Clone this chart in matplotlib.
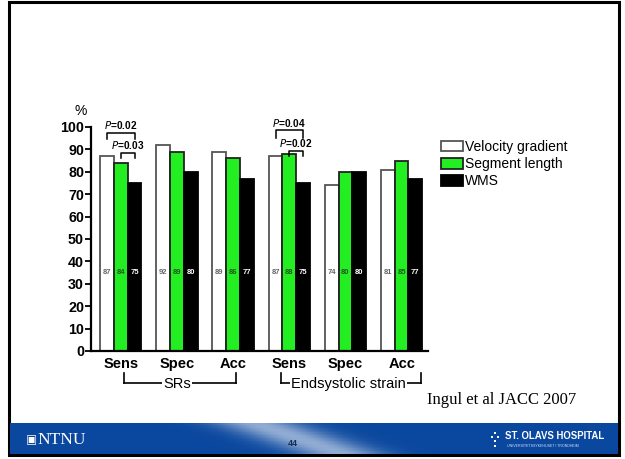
import numpy as np
import matplotlib
matplotlib.use("Agg")
import matplotlib.pyplot as plt
from matplotlib.patches import Rectangle

plt.rcParams['font.family'] = ['Liberation Sans', 'DejaVu Sans']

# ---- data ----
categories = ["Sens", "Spec", "Acc", "Sens", "Spec", "Acc"]
series_names = ["Velocity gradient", "Segment length", "WMS"]
velocity_gradient = [87, 92, 89, 87, 74, 81]
segment_length = [84, 89, 86, 88, 80, 85]
wms = [75, 80, 77, 75, 80, 77]
group_names = ["SRs", "Endsystolic strain"]
p_values = ["0.02", "0.03", "0.04", "0.02"]
citation = "Ingul et al JACC 2007"
slide_number = "44"

W, H = 625, 459
fig = plt.figure(figsize=(W / 100, H / 100), dpi=100)


def fx(px):
    return px / W


def fy(py):
    return 1 - py / H


# slide frame and footer banner
fig.patches.append(Rectangle((fx(9), fy(455)), fx(610), 453 / H, transform=fig.transFigure,
                             facecolor="white", edgecolor="black", linewidth=2.2, zorder=-10))
grad = np.linspace(0, 1, 400)
img = np.zeros((10, 400, 3))
base = np.array([0.04, 0.28, 0.62])
for i in range(10):
    shift = (i - 5) * 0.015
    s = np.exp(-((grad - 0.48 - shift) / 0.07) ** 2) * 0.55
    img[i] = base + (1 - base) * s[:, None]
bax = fig.add_axes([fx(10), fy(454), fx(608), 31 / H], zorder=1)
bax.imshow(img, aspect="auto", extent=[0, 1, 0, 1])
bax.set_axis_off()

fig.text(fx(31), fy(440), "\u25a3", color="white", fontsize=8.5, ha="center", va="center",
         family=["DejaVu Sans"], zorder=5)
fig.text(fx(37), fy(440), "NTNU", color="white", fontsize=12.5, ha="left", va="center",
         family=["Liberation Serif"], zorder=5)
fig.text(fx(293), fy(443), slide_number, color="#1a2a55", fontsize=6.5, fontweight="bold",
         ha="center", va="center", zorder=5)
fig.text(fx(505), fy(436), "ST. OLAVS HOSPITAL", color="white", fontsize=6.9, fontweight="bold",
         ha="left", va="center", zorder=5)
fig.text(fx(507), fy(446), "UNIVERSITETSSYKEHUSET I TRONDHEIM", color="#cfe0ff", fontsize=2.6,
         ha="left", va="center", zorder=5)
for (dx, dy) in [(495, 433), (498, 437), (492, 437), (495, 441), (495, 446)]:
    fig.patches.append(Rectangle((fx(dx - 1), fy(dy + 1)), fx(2), 2 / H, transform=fig.transFigure,
                                 facecolor="white", edgecolor="none", zorder=5))

# ---- chart ----
ax = fig.add_axes([fx(91), fy(351), fx(337), 224 / H], zorder=2)
ax.patch.set_alpha(0)
x = np.arange(len(categories))
bw = 0.245
colors = ["white", "#22ee22", "black"]
edges = ["#555555", "#222222", "black"]
label_colors = ["#666666", "#225522", "white"]
for k, vals in enumerate([velocity_gradient, segment_length, wms]):
    xs = x + (k - 1) * bw
    ax.bar(xs, vals, width=bw, color=colors[k], edgecolor=edges[k], linewidth=1.3,
           label=series_names[k], zorder=2)
    for xi, v in zip(xs, vals):
        ax.text(xi, 35, str(v), ha="center", va="center", fontsize=5.5,
                color=label_colors[k], fontweight="bold", zorder=3)

ax.set_xlim(-0.53, 5.47)
ax.set_ylim(0, 100)
ax.set_yticks(np.arange(0, 101, 10))
ax.set_xticks(x)
ax.set_xticklabels(categories, fontsize=10.5, fontweight="bold")
ax.tick_params(axis="x", length=0, pad=4)
ax.tick_params(axis="y", length=4, width=1.3, labelsize=10.3, pad=1)
for lab in ax.get_yticklabels():
    lab.set_fontweight("bold")
for s in ["top", "right"]:
    ax.spines[s].set_visible(False)
for s in ["left", "bottom"]:
    ax.spines[s].set_linewidth(1.6)
ax.text(-0.72, 104, "%", fontsize=10, ha="center", va="bottom")


def bracket(x0, x1, y, drop, text):
    ax.plot([x0, x0, x1, x1], [y - drop, y, y, y - drop], color="black", lw=1.1,
            clip_on=False, zorder=4)
    ax.text((x0 + x1) / 2, y + 0.6, "$\\mathit{P}$=" + text, ha="center", va="bottom",
            fontsize=7.3, fontweight="bold", clip_on=False)


bracket(0 - bw, 0 + bw, 97.5, 3, p_values[0])
bracket(0, 0 + bw, 88.5, 2.5, p_values[1])
bracket(3 - bw, 3 + bw, 98.5, 3.5, p_values[2])
bracket(3, 3 + bw, 89.5, 2.5, p_values[3])


# group brackets under the category labels
def group_bracket(x0, x1, xt, text):
    y_top, y_bot = -10, -14.5
    ax.plot([x0, x0], [y_top, y_bot], color="black", lw=1.2, clip_on=False)
    ax.plot([x1, x1], [y_top, y_bot], color="black", lw=1.2, clip_on=False)
    ax.plot([x0, x1], [y_bot, y_bot], color="black", lw=1.2, clip_on=False, zorder=1)
    ax.text(xt, y_bot - 0.3, text, ha="center", va="center", fontsize=10.5, clip_on=False,
            zorder=3, bbox=dict(facecolor="white", edgecolor="none", pad=0.8))


group_bracket(0.05, 2.05, 1.0, group_names[0])
group_bracket(2.85, 5.35, 4.05, group_names[1])

# legend
handles = [Rectangle((0, 0), 1, 1, facecolor=c, edgecolor=e, linewidth=1.3)
           for c, e in zip(colors, edges)]
fig.legend(handles, series_names, loc="upper left", bbox_to_anchor=(fx(441), fy(140)),
           frameon=False, fontsize=10, handlelength=1.6, handleheight=0.8,
           handletextpad=0.15, labelspacing=0.22, borderaxespad=0, borderpad=0)

fig.text(fx(427), fy(400), citation, fontsize=12, family=["Liberation Serif"],
         ha="left", va="center")

fig.savefig("out.png", dpi=100)
